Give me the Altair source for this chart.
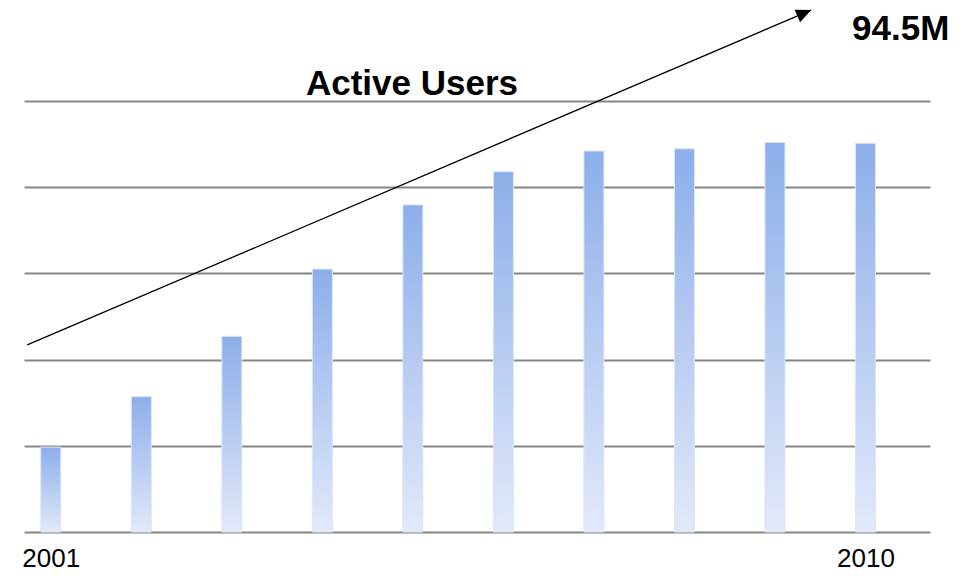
import altair as alt
import pandas as pd

# ---- data ----
years = [2001, 2002, 2003, 2004, 2005, 2006, 2007, 2008, 2009, 2010]
users = [19.7, 31.4, 45.4, 61.0, 75.9, 83.6, 88.4, 88.9, 90.4, 90.2]
grid_values = [0, 20, 40, 60, 80, 100]
tick_years = [2001, 2010]

# annotation (arrow trend line and labels)
arrow_x = [2000.74, 2009.40]
arrow_y = [43.4, 121.1]
title_text = ["Active Users"]
title_x = [2004.99]
title_y = [101.4]
peak_text = ["94.5M"]
peak_x = [2010.39]
peak_y = [114.1]

FONT = "Liberation Sans"
X_DOMAIN = [2000.704, 2010.713]
Y_DOMAIN = [0, 121.58]

bars_df = pd.DataFrame({"year": years, "users": users})
arrow_df = pd.DataFrame({"x": arrow_x, "y": arrow_y})
head_df = pd.DataFrame({"x": arrow_x[-1:], "y": arrow_y[-1:]})
title_df = pd.DataFrame({"t": title_text, "x": title_x, "y": title_y})
peak_df = pd.DataFrame({"t": peak_text, "x": peak_x, "y": peak_y})

xscale = alt.Scale(domain=X_DOMAIN, zero=False, nice=False, padding=0)
yscale = alt.Scale(domain=Y_DOMAIN, zero=False, nice=False, padding=0)

gradient = alt.Gradient(
    gradient="linear",
    stops=[alt.GradientStop(color="#8caeea", offset=0),
           alt.GradientStop(color="#e2e9f9", offset=1)],
    x1=0, x2=0, y1=0, y2=1,
)

bars = alt.Chart(bars_df).mark_bar(
    size=20, color=gradient, stroke="#dbe5f8", strokeWidth=1
).encode(
    x=alt.X("year:Q", scale=xscale,
            axis=alt.Axis(values=tick_years, format="d", title=None, grid=False,
                          ticks=False, domain=False, labelFontSize=26,
                          labelFont=FONT, labelColor="#000000", labelPadding=13,
                          labelFlush=False)),
    y=alt.Y("users:Q", scale=yscale,
            axis=alt.Axis(values=grid_values, title=None, labels=False, ticks=False,
                          domain=False, grid=True, gridColor="#868686",
                          gridWidth=2)),
)

arrow_line = alt.Chart(arrow_df).mark_line(color="#000000", strokeWidth=1.3).encode(
    x=alt.X("x:Q", scale=xscale),
    y=alt.Y("y:Q", scale=yscale),
)

arrow_head = alt.Chart(head_df).mark_point(
    shape="M0,0 L-0.46,1 L0.46,1 Z", size=900, filled=True, color="#000000",
    opacity=1, angle=66.8,
).encode(
    x=alt.X("x:Q", scale=xscale),
    y=alt.Y("y:Q", scale=yscale),
)

title_mark = alt.Chart(title_df).mark_text(
    font=FONT, fontSize=35, fontWeight="bold", color="#000000",
    align="center", baseline="alphabetic",
).encode(
    x=alt.X("x:Q", scale=xscale),
    y=alt.Y("y:Q", scale=yscale),
    text="t:N",
)

peak_mark = alt.Chart(peak_df).mark_text(
    font=FONT, fontSize=35, fontWeight="bold", color="#000000",
    align="center", baseline="alphabetic",
).encode(
    x=alt.X("x:Q", scale=xscale),
    y=alt.Y("y:Q", scale=yscale),
    text="t:N",
)

chart = alt.layer(bars, arrow_line, arrow_head, title_mark, peak_mark).properties(
    width=906,
    height=524,
    autosize=alt.AutoSizeParams(type="none"),
    padding={"left": 16, "top": 0, "right": 34, "bottom": 40},
).configure(background="#ffffff").configure_view(stroke=None, strokeWidth=0)

chart.save("out.html", embed_options={"renderer": "svg", "actions": False})
